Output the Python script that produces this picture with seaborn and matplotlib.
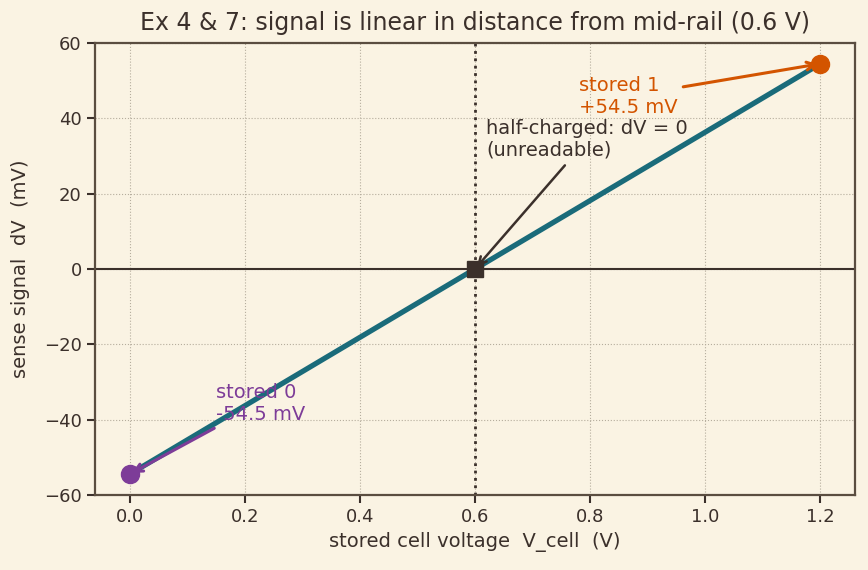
import matplotlib
matplotlib.use("Agg")
import matplotlib.pyplot as plt
import seaborn as sns
import pandas as pd

# data
v_cell = [0.0, 0.6, 1.2]
dv_mv = [-54.5, 0.0, 54.5]
mid_rail = 0.6
x_ticks = [0.0, 0.2, 0.4, 0.6, 0.8, 1.0, 1.2]
y_ticks = [-60, -40, -20, 0, 20, 40, 60]

BG = "#faf3e3"
INK = "#3b302b"
TEAL = "#1a6b7a"
ORANGE = "#d35400"
PURPLE = "#7d3c98"

sns.set_theme(style="whitegrid")
plt.rcParams.update({
    "figure.facecolor": BG,
    "axes.facecolor": BG,
    "axes.edgecolor": "#5a4d40",
    "axes.linewidth": 1.6,
    "axes.labelcolor": INK,
    "text.color": INK,
    "xtick.color": INK,
    "ytick.color": INK,
    "font.family": ["DejaVu Sans"],
})

df = pd.DataFrame({"v": v_cell, "dv": dv_mv})

fig, ax = plt.subplots(figsize=(8.68, 5.7), dpi=100)
ax.grid(True, linestyle=":", color="#b5ad9d", linewidth=0.8)
ax.axhline(0, color=INK, lw=1.5, zorder=1)
ax.axvline(mid_rail, color=INK, lw=2, ls=":", zorder=1)

sns.lineplot(data=df, x="v", y="dv", ax=ax, color=TEAL, lw=3.8, zorder=3)
ax.plot(v_cell[2], dv_mv[2], "o", color=ORANGE, ms=13, zorder=4)
ax.plot(v_cell[0], dv_mv[0], "o", color=PURPLE, ms=13, zorder=4)
ax.plot(v_cell[1], dv_mv[1], "s", color=INK, ms=12, zorder=4)

ax.annotate("stored 1\n+54.5 mV", xy=(v_cell[2], dv_mv[2]), xytext=(0.78, 41.5),
            color=ORANGE, fontsize=14,
            arrowprops=dict(arrowstyle="->", color=ORANGE, lw=2.2))
ax.annotate("stored 0\n-54.5 mV", xy=(v_cell[0], dv_mv[0]), xytext=(0.15, -40),
            color=PURPLE, fontsize=14,
            arrowprops=dict(arrowstyle="->", color=PURPLE, lw=2.2))
ax.annotate("half-charged: dV = 0\n(unreadable)", xy=(v_cell[1], dv_mv[1]), xytext=(0.62, 30),
            color=INK, fontsize=14,
            arrowprops=dict(arrowstyle="->", color=INK, lw=1.8))

ax.set_xticks(x_ticks)
ax.set_yticks(y_ticks)
ax.set_ylim(-60, 60)
ax.set_xlim(-0.06, 1.26)
ax.tick_params(labelsize=13, length=6, width=1.5, left=True, bottom=True)
ax.set_xlabel("stored cell voltage  V_cell  (V)", fontsize=14)
ax.set_ylabel("sense signal  dV  (mV)", fontsize=14, labelpad=10)
ax.set_title("Ex 4 & 7: signal is linear in distance from mid-rail (0.6 V)", fontsize=17, pad=9)

fig.subplots_adjust(left=0.1094, right=0.985, top=0.9246, bottom=0.1316)
plt.savefig("out.png", dpi=100, facecolor=BG)
